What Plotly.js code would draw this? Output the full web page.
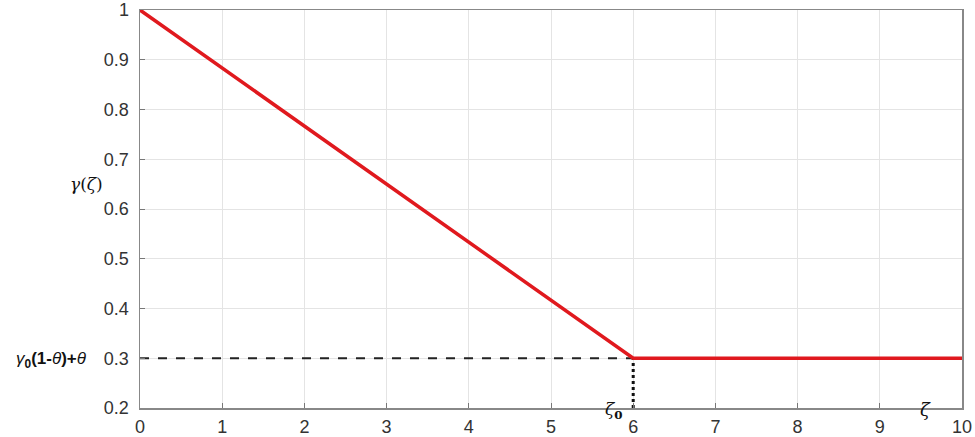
<!DOCTYPE html>
<html><head><meta charset="utf-8">
<script src="https://cdn.plot.ly/plotly-3.0.1.min.js"></script>
<style>body{margin:0;background:#fff}#chart{width:975px;height:437px}</style>
</head><body><div id="chart"></div>
<script>
const zetaValues = [0, 6, 10];
const gammaValues = [1, 0.3, 0.3];
const dashHX = [0, 6];
const dashHY = [0.3, 0.3];
const dashVX = [6, 6];
const dashVY = [0.2, 0.3];
const xTicks = [0,1,2,3,4,5,6,7,8,9,10];
const yTicks = [0.2,0.3,0.4,0.5,0.6,0.7,0.8,0.9,1];
const yTickText = ['0.2','0.3','0.4','0.5','0.6','0.7','0.8','0.9','1'];

const traces = [
  {x: dashHX, y: dashHY, mode:'lines', line:{color:'#222', width:2, dash:'dash'}, hoverinfo:'skip'},
  {x: dashVX, y: dashVY, mode:'lines', line:{color:'#111', width:3, dash:'dot'}, hoverinfo:'skip'},
  {x: zetaValues, y: gammaValues, mode:'lines', line:{color:'#e0191e', width:3.5}}
];
const font = {family:'Liberation Sans, Arial, sans-serif', size:18, color:'#333'};
const layout = {
  width:975, height:437, showlegend:false,
  margin:{l:140, r:13, t:10, b:29},
  paper_bgcolor:'#fff', plot_bgcolor:'#fff',
  font: font,
  xaxis:{range:[0,10], tickvals:xTicks, ticks:'inside', ticklen:5, tickcolor:'#777',
    showgrid:true, gridcolor:'#e4e4e4', gridwidth:1, zeroline:false, ticklabelstandoff:2,
    showline:true, linecolor:'#888', linewidth:1.5, mirror:true, tickfont:font, ticklabeloverflow:'allow'},
  yaxis:{range:[0.2,1], tickvals:yTicks, ticktext:yTickText, ticks:'inside', ticklen:5, tickcolor:'#777',
    showgrid:true, gridcolor:'#e4e4e4', gridwidth:1, zeroline:false, ticklabelstandoff:6,
    showline:true, linecolor:'#888', linewidth:1.5, mirror:true, tickfont:font, ticklabeloverflow:'allow'},
  annotations:[
    {xref:'paper', yref:'y', x:-0.042, y:0.65, text:'<i>γ</i>(<i>ζ</i>)', showarrow:false, xanchor:'right',
      font:{family:'DejaVu Serif, serif', size:17, color:'#111'}},
    {xref:'paper', yref:'y', x:-0.062, y:0.3, yshift:-2, text:'<i>γ</i><sub><b>0</b></sub><b>(1-</b><i>θ</i><b>)+</b><i>θ</i>', showarrow:false, xanchor:'right',
      font:{family:'Liberation Sans, Arial, sans-serif', size:17, color:'#111'}},
    {xref:'x', yref:'paper', x:6, y:0, yshift:-16, xshift:-8, text:'<i>ζ</i><sub><b>0</b></sub>', showarrow:false, xanchor:'right',
      font:{family:'DejaVu Serif, serif', size:17, color:'#111'}},
    {xref:'x', yref:'paper', x:9.55, y:0, yshift:-14, text:'<i>ζ</i>', showarrow:false,
      font:{family:'DejaVu Serif, serif', size:18, color:'#111'}}
  ]
};
Plotly.newPlot('chart', traces, layout, {staticPlot:true});
</script></body></html>
